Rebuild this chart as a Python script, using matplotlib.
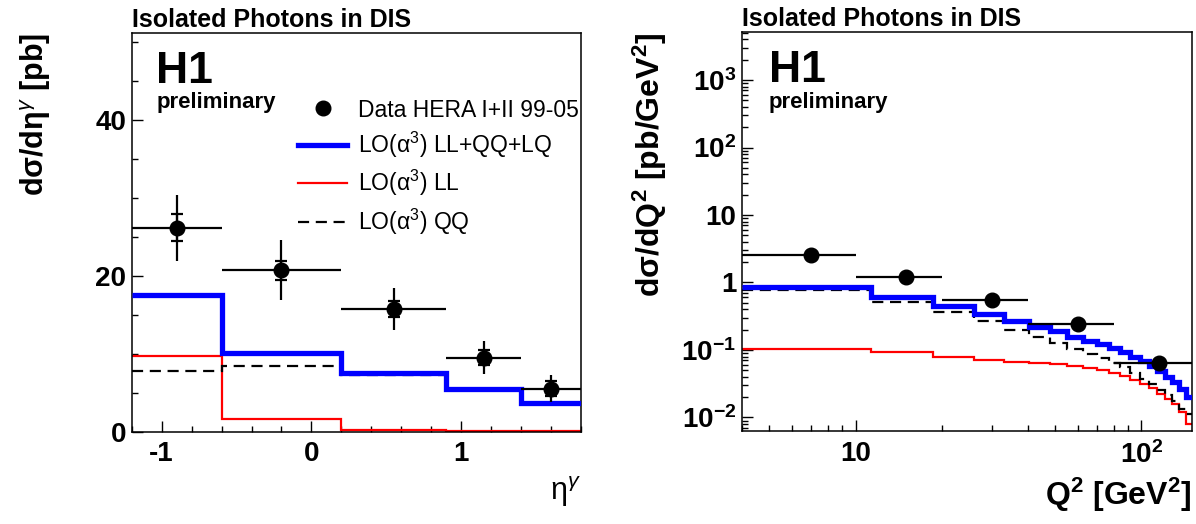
import matplotlib

matplotlib.use("Agg")
import matplotlib.pyplot as plt
from matplotlib.lines import Line2D
from matplotlib.ticker import FixedFormatter, FixedLocator, LogLocator, MultipleLocator, NullFormatter

plt.rcParams["font.family"] = ["Liberation Sans", "DejaVu Sans"]
plt.rcParams["mathtext.fontset"] = "custom"
plt.rcParams["mathtext.rm"] = "Liberation Sans"
plt.rcParams["mathtext.bf"] = "Liberation Sans:bold"
plt.rcParams["mathtext.it"] = "Liberation Sans:italic"
plt.rcParams["axes.unicode_minus"] = False

BLUE = "#0000ff"
RED = "#ff0000"

# ---- eta^gamma distribution (left) ----
ETA_EDGES = [-1.2, -0.6, 0.2, 0.9, 1.4, 1.8]
ETA_X = [-0.9, -0.2, 0.55, 1.15, 1.6]
ETA_DATA = [26.15, 20.7, 15.7, 9.5, 5.5]
ETA_STAT = [1.75, 1.25, 1.0, 1.0, 0.95]
ETA_TOT = [4.2, 3.85, 2.7, 2.1, 1.75]
ETA_ALL = [17.5, 10.1, 7.5, 5.5, 3.7]      # LL+QQ+LQ
ETA_LL = [9.7, 1.67, 0.2, 0.1, 0.03]
ETA_QQ = [7.8, 8.4, 7.2, 5.4, 3.67]

# ---- Q^2 distribution (right) ----
Q2_DATA_EDGES = [4, 10, 20, 40, 80, 150]
Q2_X = [7, 15, 30, 60, 115]
Q2_DATA = [2.59, 1.21, 0.555, 0.244, 0.065]
Q2_EDGES = [4.0, 11.3, 18.6, 25.9, 33.2, 40.5, 47.8, 55.1, 62.4, 69.7, 77.0,
            84.3, 91.6, 98.9, 106.2, 113.5, 120.8, 128.1, 135.4, 142.7, 150.0]
Q2_ALL = [0.87, 0.61, 0.455, 0.34, 0.27, 0.222, 0.188, 0.158, 0.138, 0.122,
          0.106, 0.092, 0.079, 0.068, 0.058, 0.048, 0.040, 0.033, 0.026, 0.020]
Q2_LL = [0.103, 0.092, 0.080, 0.072, 0.067, 0.064, 0.061, 0.057, 0.054, 0.050,
         0.046, 0.041, 0.036, 0.031, 0.027, 0.0226, 0.019, 0.0156, 0.012, 0.0081]
Q2_QQ = [0.77, 0.52, 0.37, 0.265, 0.20, 0.155, 0.127, 0.104, 0.088, 0.076,
         0.065, 0.055, 0.045, 0.037, 0.031, 0.0255, 0.0214, 0.0175, 0.0135, 0.0111]

LEG_LABELS = ["Data HERA I+II 99-05", "LO(α$^{3}$) LL+QQ+LQ", "LO(α$^{3}$) LL", "LO(α$^{3}$) QQ"]

fig = plt.figure(figsize=(11.96, 5.24), dpi=100)
axL = fig.add_axes([0.1101, 0.1765, 0.3757, 0.7611])
axR = fig.add_axes([0.6202, 0.1775, 0.3762, 0.7609])


def draw(ax, edges, x, data, lo_edges, all_, ll, qq, stat=None, tot=None):
    ax.stairs(ll, edges, color=RED, linewidth=1.6, baseline=None, zorder=2)
    ax.stairs(qq, edges, color="black", linewidth=1.6, linestyle=(0, (5, 3)), baseline=None, zorder=3)
    ax.stairs(all_, edges, color=BLUE, linewidth=3.8, baseline=None, zorder=4)
    xlo = [c - lo_edges[i] for i, c in enumerate(x)]
    xhi = [lo_edges[i + 1] - c for i, c in enumerate(x)]
    ax.errorbar(x, data, xerr=[xlo, xhi], yerr=tot, fmt="o", color="black", ms=10.5,
                elinewidth=1.6, capsize=0, zorder=5)
    if stat is not None:
        ax.errorbar(x, data, yerr=stat, fmt="none", ecolor="black", elinewidth=1.6,
                    capsize=4, capthick=1.6, zorder=5)


def style(ax):
    for s in ax.spines.values():
        s.set_linewidth(1.1)
    ax.tick_params(which="both", direction="in", top=False, right=False, width=1.0)
    ax.tick_params(which="major", length=8, labelsize=20)
    ax.tick_params(which="minor", length=4.5)
    ax.tick_params(axis="x", pad=7)
    ax.tick_params(axis="y", pad=4)
    for lab in ax.get_xticklabels() + ax.get_yticklabels():
        lab.set_fontweight("bold")


# left panel
draw(axL, ETA_EDGES, ETA_X, ETA_DATA, ETA_EDGES, ETA_ALL, ETA_LL, ETA_QQ, ETA_STAT, ETA_TOT)
axL.set_xlim(-1.2, 1.8)
axL.set_ylim(0, 51.2)
axL.xaxis.set_major_locator(FixedLocator([-1, 0, 1]))
axL.xaxis.set_minor_locator(MultipleLocator(0.2))
axL.yaxis.set_major_locator(FixedLocator([0, 20, 40]))
axL.yaxis.set_minor_locator(MultipleLocator(5))
style(axL)
axL.text(0.0, 1.015, "Isolated Photons in DIS", transform=axL.transAxes, fontsize=18,
         fontweight="bold", ha="left", va="baseline")
axL.text(0.055, 0.875, "H1", transform=axL.transAxes, fontsize=32, fontweight="bold", va="baseline")
axL.text(0.055, 0.81, "preliminary", transform=axL.transAxes, fontsize=16, fontweight="bold", va="baseline")
axL.text(-0.213, 1.0, "dσ/dη$^{γ}$ [pb]", transform=axL.transAxes, rotation=90, fontsize=22,
         fontweight="bold", ha="center", va="top")
axL.text(1.0, -0.172, "η$^{γ}$", transform=axL.transAxes, fontsize=22, ha="right", va="baseline")

handles = [Line2D([], [], color="black", marker="o", ms=10.5, linestyle="none"),
           Line2D([], [], color=BLUE, linewidth=3.8),
           Line2D([], [], color=RED, linewidth=1.6),
           Line2D([], [], color="black", linewidth=1.6, linestyle=(0, (5, 3)))]
axL.legend(handles, LEG_LABELS, loc="upper left", bbox_to_anchor=(0.37, 0.835), frameon=False,
           fontsize=16.5, handlelength=2.15, handletextpad=0.45, labelspacing=0.36,
           borderpad=0, borderaxespad=0)

# right panel
draw(axR, Q2_EDGES, Q2_X, Q2_DATA, Q2_DATA_EDGES, Q2_ALL, Q2_LL, Q2_QQ)
axR.set_xscale("log")
axR.set_yscale("log")
axR.set_xlim(4, 150)
axR.set_ylim(0.0063, 5100)
axR.xaxis.set_major_locator(FixedLocator([10, 100]))
axR.xaxis.set_major_formatter(FixedFormatter(["10", r"$\mathbf{10^{2}}$"]))
axR.xaxis.set_minor_locator(LogLocator(base=10, subs=range(2, 10)))
axR.xaxis.set_minor_formatter(NullFormatter())
axR.yaxis.set_major_locator(FixedLocator([0.01, 0.1, 1, 10, 100, 1000]))
axR.yaxis.set_major_formatter(FixedFormatter([r"$\mathbf{10^{-2}}$", r"$\mathbf{10^{-1}}$", "1", "10",
                                              r"$\mathbf{10^{2}}$", r"$\mathbf{10^{3}}$"]))
axR.yaxis.set_minor_locator(LogLocator(base=10, subs=range(2, 10)))
axR.yaxis.set_minor_formatter(NullFormatter())
style(axR)
axR.text(0.0, 1.015, "Isolated Photons in DIS", transform=axR.transAxes, fontsize=18,
         fontweight="bold", ha="left", va="baseline")
axR.text(0.06, 0.875, "H1", transform=axR.transAxes, fontsize=32, fontweight="bold", va="baseline")
axR.text(0.06, 0.81, "preliminary", transform=axR.transAxes, fontsize=16, fontweight="bold", va="baseline")
axR.text(-0.204, 1.0, r"dσ/dQ$^{\mathbf{2}}$ [pb/GeV$^{\mathbf{2}}$]", transform=axR.transAxes,
         rotation=90, fontsize=23, fontweight="bold", ha="center", va="top")
axR.text(1.0, -0.185, r"Q$^{\mathbf{2}}$ [GeV$^{\mathbf{2}}$]", transform=axR.transAxes, fontsize=23,
         fontweight="bold", ha="right", va="baseline")

fig.savefig("out.png", dpi=100)
